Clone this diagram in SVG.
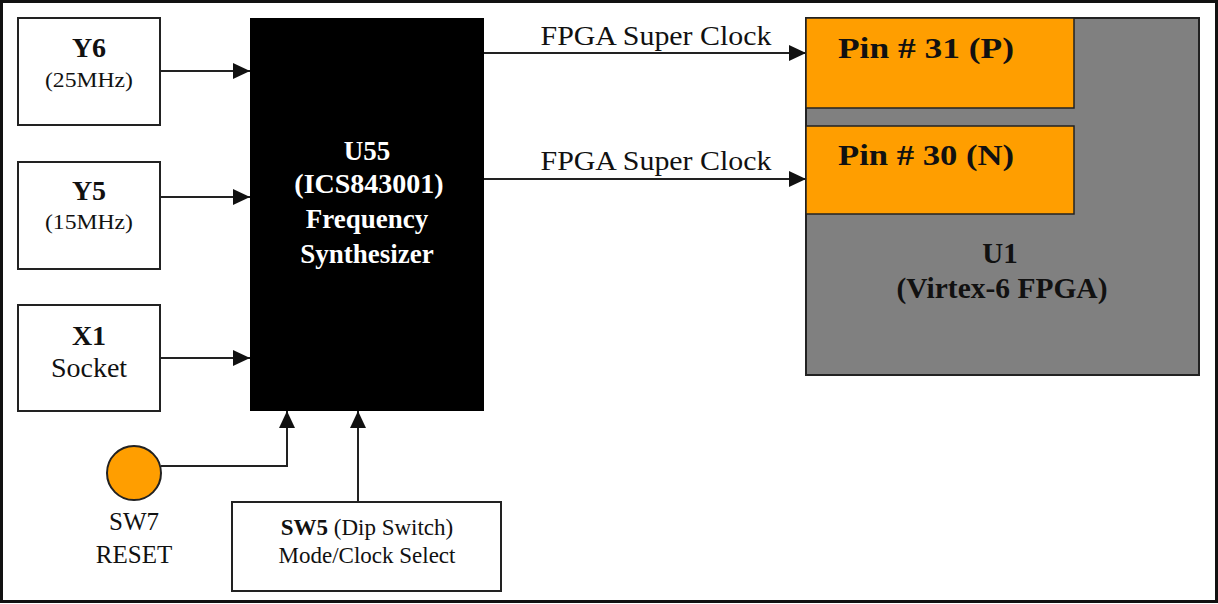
<svg xmlns="http://www.w3.org/2000/svg" width="1218" height="604" viewBox="0 0 1218 604">
<style>
text{font-family:"Liberation Serif","Times New Roman",serif;fill:#111;text-anchor:middle}
.b{font-weight:bold}
.box{fill:#fff;stroke:#222;stroke-width:2}
.pin{fill:#FF9E00;stroke:#222;stroke-width:1.5}
.ln{fill:none;stroke:#222;stroke-width:2}
.w{fill:#fff}
</style>
<defs>
<marker id="ah" markerUnits="userSpaceOnUse" markerWidth="18" markerHeight="17" refX="17" refY="8" orient="auto">
<path d="M0,0 L17,8 L0,16 z" fill="#111"/>
</marker>
</defs>
<rect x="0" y="0" width="1218" height="604" fill="#fff"/>
<rect x="1.5" y="1.5" width="1215" height="600" fill="none" stroke="#111" stroke-width="3"/>

<g id="Y6">
<rect class="box" x="18" y="18" width="142" height="107"/>
<text class="b" x="89" y="57" font-size="28">Y6</text>
<text x="89" y="87" font-size="22" textLength="88" lengthAdjust="spacingAndGlyphs">(25MHz)</text>
</g>
<g id="Y5">
<rect class="box" x="18" y="162" width="142" height="107"/>
<text class="b" x="89" y="200" font-size="28">Y5</text>
<text x="89" y="229" font-size="22" textLength="88" lengthAdjust="spacingAndGlyphs">(15MHz)</text>
</g>
<g id="X1">
<rect class="box" x="18" y="305" width="142" height="106"/>
<text class="b" x="89" y="345" font-size="28">X1</text>
<text x="89" y="377" font-size="28">Socket</text>
</g>
<g id="U55">
<rect x="250" y="18" width="234" height="393" fill="#000"/>
<text class="b w" x="367" y="160" font-size="27">U55</text>
<text class="w" x="369" y="193" font-size="28" font-weight="bold">(ICS843001)</text>
<text class="b w" x="367" y="228" font-size="27">Frequency</text>
<text class="b w" x="367" y="263" font-size="27">Synthesizer</text>
</g>
<g id="SW7">
<circle cx="134" cy="473" r="27" fill="#FF9E00" stroke="#222" stroke-width="2"/>
<text x="134" y="530" font-size="25">SW7</text>
<text x="134" y="563" font-size="25">RESET</text>
</g>
<g id="SW5">
<rect class="box" x="232" y="502" width="269" height="89"/>
<text x="367" y="535" font-size="23"><tspan font-weight="bold">SW5</tspan> (Dip Switch)</text>
<text x="367" y="563" font-size="23">Mode/Clock Select</text>
</g>
<g id="U1">
<rect x="806" y="18" width="393" height="357" fill="#808080" stroke="#222" stroke-width="2"/>
<text class="b" x="1000" y="263" font-size="29">U1</text>
<text class="b" x="1002" y="298" font-size="29" textLength="211" lengthAdjust="spacingAndGlyphs">(Virtex-6 FPGA)</text>
</g>
<g id="Pin31">
<rect class="pin" x="806" y="18" width="268" height="90"/>
<text class="b" x="926" y="58" font-size="29" textLength="176" lengthAdjust="spacingAndGlyphs">Pin # 31 (P)</text>
</g>
<g id="Pin30">
<rect class="pin" x="806" y="126" width="268" height="88"/>
<text class="b" x="926" y="165" font-size="29" textLength="176" lengthAdjust="spacingAndGlyphs">Pin # 30 (N)</text>
</g>

<g id="connectors">
<line class="ln" x1="160" y1="71" x2="250" y2="71" marker-end="url(#ah)"/>
<line class="ln" x1="160" y1="197" x2="250" y2="197" marker-end="url(#ah)"/>
<line class="ln" x1="160" y1="358" x2="250" y2="358" marker-end="url(#ah)"/>
<polyline class="ln" points="161,466 287,466 287,411" marker-end="url(#ah)"/>
<line class="ln" x1="358" y1="502" x2="358" y2="411" marker-end="url(#ah)"/>
<line class="ln" x1="484" y1="53" x2="806" y2="53" marker-end="url(#ah)"/>
<line class="ln" x1="484" y1="179" x2="806" y2="179" marker-end="url(#ah)"/>
<text x="656" y="45" font-size="27" textLength="231" lengthAdjust="spacingAndGlyphs">FPGA Super Clock</text>
<text x="656" y="170" font-size="27" textLength="231" lengthAdjust="spacingAndGlyphs">FPGA Super Clock</text>
</g>
</svg>
